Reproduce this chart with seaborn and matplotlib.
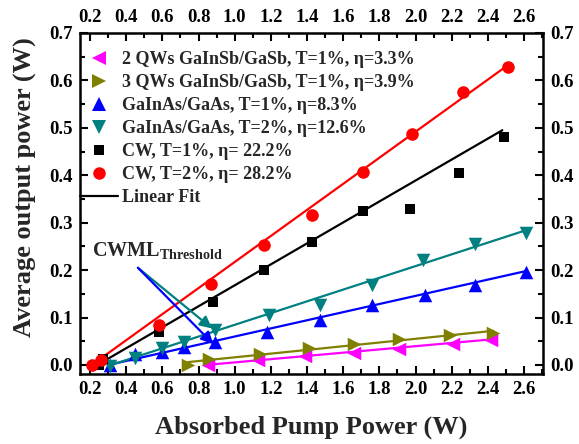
import matplotlib
matplotlib.use('Agg')
import matplotlib.pyplot as plt
import seaborn as sns
import pandas as pd
from matplotlib.lines import Line2D
from matplotlib.ticker import MultipleLocator

# ---------------- data ----------------
qw2_x = [0.85, 1.13, 1.39, 1.66, 1.91, 2.21, 2.42]
qw2_y = [0.000, 0.010, 0.019, 0.025, 0.034, 0.044, 0.053]
qw3_x = [0.74, 0.86, 1.14, 1.41, 1.66, 1.91, 2.19, 2.43]
qw3_y = [0.000, 0.013, 0.023, 0.036, 0.044, 0.055, 0.063, 0.067]
gaas1_x = [0.31, 0.45, 0.60, 0.72, 0.89, 1.18, 1.47, 1.76, 2.05, 2.33, 2.61]
gaas1_y = [0.000, 0.023, 0.027, 0.038, 0.048, 0.070, 0.095, 0.127, 0.148, 0.169, 0.196]
gaas2_x = [0.31, 0.45, 0.60, 0.72, 0.89, 1.19, 1.47, 1.76, 2.04, 2.33, 2.61]
gaas2_y = [-0.003, 0.015, 0.036, 0.048, 0.074, 0.105, 0.127, 0.169, 0.221, 0.255, 0.279]
cw1_x = [0.25, 0.27, 0.58, 0.88, 1.16, 1.43, 1.71, 1.97, 2.24, 2.49]
cw1_y = [0.000, 0.012, 0.070, 0.133, 0.200, 0.259, 0.325, 0.329, 0.405, 0.481]
cw2_x = [0.21, 0.26, 0.58, 0.87, 1.16, 1.43, 1.71, 1.98, 2.26, 2.51]
cw2_y = [0.000, 0.011, 0.084, 0.171, 0.253, 0.316, 0.407, 0.487, 0.576, 0.628]

labels = ["2 QWs GaInSb/GaSb, T=1%, \u03b7=3.3%",
          "3 QWs GaInSb/GaSb, T=1%, \u03b7=3.9%",
          "GaInAs/GaAs, T=1%, \u03b7=8.3%",
          "GaInAs/GaAs, T=2%, \u03b7=12.6%",
          "CW, T=1%, \u03b7= 22.2%",
          "CW, T=2%, \u03b7= 28.2%"]
fit_label = "Linear Fit"

# linear-fit line end points per series (same order as labels)
fit_x0 = [0.84, 0.74, 0.30, 0.30, 0.24, 0.21]
fit_y0 = [0.000, 0.006, 0.000, -0.002, 0.000, 0.000]
fit_x1 = [2.42, 2.43, 2.61, 2.61, 2.48, 2.51]
fit_y1 = [0.054, 0.072, 0.198, 0.284, 0.495, 0.632]

# arrow: CWML threshold annotation
arrow_start = (0.465, 0.205)
arrow_ends = [(0.875, 0.077), (0.882, 0.044)]

xticks = [0.2, 0.4, 0.6, 0.8, 1.0, 1.2, 1.4, 1.6, 1.8, 2.0, 2.2, 2.4, 2.6]
yticks = [0.0, 0.1, 0.2, 0.3, 0.4, 0.5, 0.6, 0.7]

# ---------------- styles ----------------
colors = ['#FF00FF', '#808000', '#0000FF', '#008080', '#000000', '#FF0000']
markers = ['<', '>', '^', 'v', 's', 'o']
sizes = [95, 95, 95, 95, 62, 82]

sns.set_theme(style='ticks')
plt.rcParams['font.family'] = ['Liberation Serif', 'DejaVu Serif']
plt.rcParams['font.weight'] = 'bold'
plt.rcParams['axes.labelweight'] = 'bold'
plt.rcParams['mathtext.fontset'] = 'custom'
plt.rcParams['mathtext.rm'] = 'Liberation Serif:bold'
plt.rcParams['mathtext.bf'] = 'Liberation Serif:bold'
plt.rcParams['mathtext.it'] = 'Liberation Serif:bold'

fig = plt.figure(figsize=(5.79, 4.44), dpi=100)
ax = fig.add_axes([80/579, 1 - 374/444, 463/579, 341/444])

xs = [qw2_x, qw3_x, gaas1_x, gaas2_x, cw1_x, cw2_x]
ys = [qw2_y, qw3_y, gaas1_y, gaas2_y, cw1_y, cw2_y]

for i in range(6):
    df = pd.DataFrame({'x': xs[i], 'y': ys[i]})
    sns.scatterplot(data=df, x='x', y='y', ax=ax, color=colors[i], marker=markers[i],
                    s=sizes[i], linewidth=0, legend=False, zorder=3)
    fdf = pd.DataFrame({'x': [fit_x0[i], fit_x1[i]], 'y': [fit_y0[i], fit_y1[i]]})
    sns.lineplot(data=fdf, x='x', y='y', ax=ax, color=colors[i], lw=1.6,
                 legend=False, zorder=2)

# annotation arrows
for end, c in zip(arrow_ends, ['#008080', '#0000FF']):
    ax.annotate('', xy=end, xytext=arrow_start,
                arrowprops=dict(arrowstyle='-|>', color=c, lw=1.6,
                                mutation_scale=18, shrinkA=0, shrinkB=0))
ax.text(0.211, 0.230, r'CWML$_{\mathrm{Threshold}}$', fontsize=14.5,
        fontweight='bold', ha='left', va='baseline')

ax.set_xlim(0.1447, 2.705)
ax.set_ylim(-0.019, 0.7)
ax.set_xticks(xticks)
ax.set_yticks(yticks)
ax.set_xticklabels([f'{t:.1f}' for t in xticks])
ax.set_yticklabels([f'{t:.1f}' for t in yticks])
ax.xaxis.set_minor_locator(MultipleLocator(0.1))
ax.yaxis.set_minor_locator(MultipleLocator(0.05))
ax.tick_params(which='both', direction='in', top=True, right=True,
               labeltop=True, labelright=True, width=1.5, colors='black')
ax.tick_params(which='major', length=6, labelsize=13.5, pad=5)
ax.tick_params(which='minor', length=3.5)
for sp in ax.spines.values():
    sp.set_linewidth(1.8)
    sp.set_color('black')

ax.set_xlabel('Absorbed Pump Power (W)', fontsize=19, fontweight='bold')
ax.set_ylabel('Average output power (W)', fontsize=19, fontweight='bold')
ax.xaxis.set_label_coords((311 - 80) / 463, (374 - 427) / 341)
ax.yaxis.set_label_coords((25 - 80) / 463, (374 - 187) / 341)
ax.xaxis.label.set_va('center')
ax.yaxis.label.set_va('center')

handles = [Line2D([], [], color=colors[i], marker=markers[i], ls='none',
                  markersize=(9.5 if i < 4 else (7.8 if i == 4 else 9.0)),
                  markeredgewidth=0) for i in range(6)]
handles.append(Line2D([], [], color='black', lw=1.6))
leg = ax.legend(handles, labels + [fit_label], loc='upper left',
                bbox_to_anchor=(0.0, 0.946), frameon=False, borderpad=0,
                borderaxespad=0, handlelength=2.1, handletextpad=0.25,
                labelspacing=0.33, prop={'family': 'Liberation Serif',
                                         'weight': 'bold', 'size': 13})

fig.savefig('out.png', dpi=100)
